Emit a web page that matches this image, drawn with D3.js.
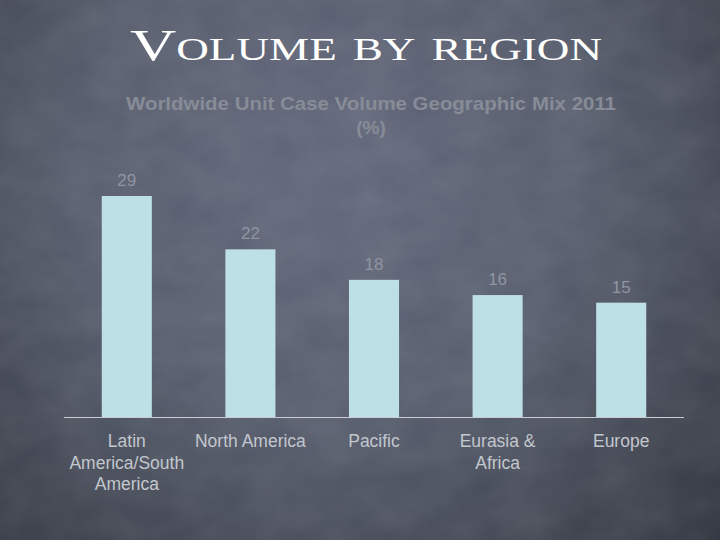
<!DOCTYPE html>
<html lang="en">
<head>
	<meta charset="utf-8">
	<title>Volume by region</title>
	<script src="https://cdn.jsdelivr.net/npm/d3@7"></script>
	<style>
		html, body { margin: 0; padding: 0; background: #3c414c; }
		svg { display: block; }
	</style>
</head>
<body>
<script>

	// Chart data
	var regions = ["Latin America/South America", "North America", "Pacific", "Eurasia & Africa", "Europe"];
	var regionLines = [["Latin", "America/South", "America"], ["North America"], ["Pacific"], ["Eurasia &", "Africa"], ["Europe"]];
	var shares = [29, 22, 18, 16, 15];

	var width = 720, height = 540;

	var svg = d3.select("body")
				.append("svg")
				.attr("width", width)
				.attr("height", height);

	// Chalkboard-like background
	var defs = svg.append("defs");
	var grad = defs.append("radialGradient")
				.attr("id", "board")
				.attr("gradientUnits", "userSpaceOnUse")
				.attr("cx", 330).attr("cy", 170).attr("r", 560);
	grad.append("stop").attr("offset", "0%").attr("stop-color", "#60667a");
	grad.append("stop").attr("offset", "45%").attr("stop-color", "#555b6b");
	grad.append("stop").attr("offset", "100%").attr("stop-color", "#2c3039");

	var noise = defs.append("filter").attr("id", "chalk")
				.attr("x", 0).attr("y", 0).attr("width", "100%").attr("height", "100%");
	noise.append("feTurbulence")
		.attr("type", "fractalNoise")
		.attr("baseFrequency", "0.02 0.03")
		.attr("numOctaves", 3)
		.attr("seed", 4);
	noise.append("feColorMatrix")
		.attr("type", "matrix")
		.attr("values", "0 0 0 0 1  0 0 0 0 1  0 0 0 0 1  0 0 0 0.10 0");

	svg.append("rect")
		.attr("width", width).attr("height", height)
		.attr("fill", "url(#board)");
	svg.append("rect")
		.attr("width", width).attr("height", height)
		.attr("filter", "url(#chalk)");

	// Titles
	svg.append("text")
		.attr("x", 366).attr("y", 60)
		.attr("text-anchor", "middle")
		.attr("fill", "#ffffff")
		.style("font-family", "'Liberation Serif', 'DejaVu Serif', serif")
		.style("font-size", "44px")
		.style("font-variant", "small-caps")
		.attr("textLength", 472)
		.attr("lengthAdjust", "spacingAndGlyphs")
		.text("Volume by region");

	svg.append("text")
		.attr("x", 371).attr("y", 110)
		.attr("text-anchor", "middle")
		.attr("fill", "#878c97")
		.style("font-family", "'Liberation Sans', Arial, sans-serif")
		.style("font-size", "19px")
		.style("font-weight", "bold")
		.attr("textLength", 490)
		.attr("lengthAdjust", "spacingAndGlyphs")
		.text("Worldwide Unit Case Volume Geographic Mix 2011");

	svg.append("text")
		.attr("x", 371).attr("y", 134)
		.attr("text-anchor", "middle")
		.attr("fill", "#878c97")
		.style("font-family", "'Liberation Sans', Arial, sans-serif")
		.style("font-size", "19px")
		.style("font-weight", "bold")
		.text("(%)");

	// Scales
	var xScale = d3.scaleBand()
				.domain(regions)
				.range([65, 683])
				.paddingInner(0.595)
				.paddingOuter(0.2975);

	var yScale = d3.scaleLinear()
				.domain([0, 29])
				.range([417, 196]);

	// Bars
	svg.selectAll("rect.bar")
		.data(shares)
		.enter()
			.append("rect")
			.attr("class", "bar")
			.attr("x", function(d, i) { return xScale(regions[i]); })
			.attr("y", function(d) { return yScale(d); })
			.attr("width", xScale.bandwidth())
			.attr("height", function(d) { return yScale(0) - yScale(d); })
			.attr("fill", "#bde0e6");

	// Value labels
	svg.selectAll("text.value")
		.data(shares)
		.enter()
			.append("text")
			.attr("class", "value")
			.attr("x", function(d, i) { return xScale(regions[i]) + xScale.bandwidth() / 2; })
			.attr("y", function(d) { return yScale(d) - 10; })
			.attr("text-anchor", "middle")
			.attr("fill", "#8f95a1")
			.style("font-family", "'Liberation Sans', Arial, sans-serif")
			.style("font-size", "17px")
			.text(function(d) { return d; });

	// X axis
	var xAxis = d3.axisBottom(xScale).tickSize(0).tickFormat("");
	var axisG = svg.append("g")
		.attr("transform", "translate(0," + yScale(0) + ")")
		.call(xAxis);
	axisG.select(".domain")
		.attr("stroke", "#c9cdd3")
		.attr("stroke-width", 1.2)
		.attr("d", "M64,0.5H684");

	// Category labels (wrapped)
	var cat = svg.selectAll("text.cat")
		.data(regions)
		.enter()
			.append("text")
			.attr("class", "cat")
			.attr("x", function(d) { return xScale(d) + xScale.bandwidth() / 2; })
			.attr("y", 447)
			.attr("text-anchor", "middle")
			.attr("fill", "#c3c7ce")
			.style("font-family", "'Liberation Sans', Arial, sans-serif")
			.style("font-size", "17.5px");

	cat.each(function(d, i) {
		var t = d3.select(this);
		regionLines[i].forEach(function(line, j) {
			t.append("tspan")
				.attr("x", xScale(d) + xScale.bandwidth() / 2)
				.attr("dy", j === 0 ? 0 : 21.5)
				.text(line);
		});
	});

</script>
</body>
</html>
